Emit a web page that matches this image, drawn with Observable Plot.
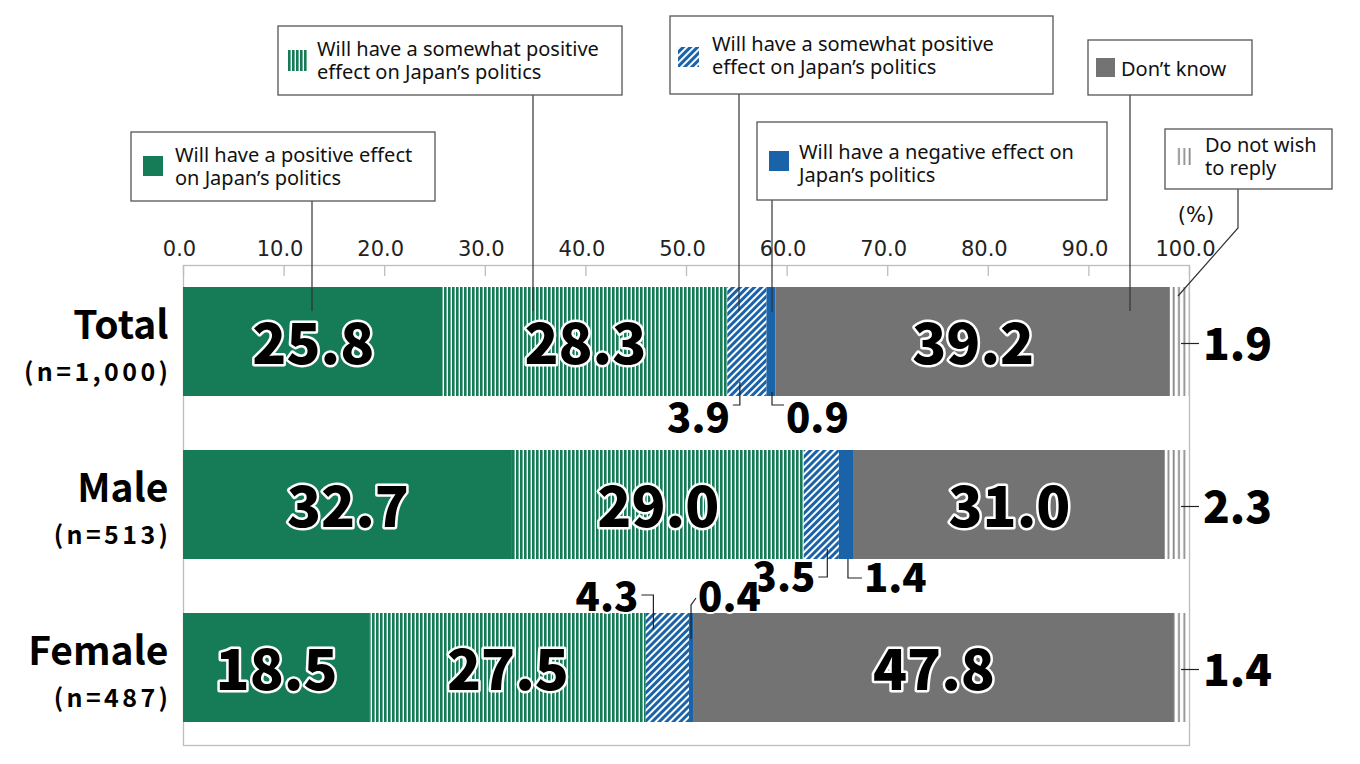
<!DOCTYPE html>
<html><head><meta charset="utf-8">
<script src="https://cdn.jsdelivr.net/npm/d3@7"></script>
<script src="https://cdn.jsdelivr.net/npm/@observablehq/plot@0.6"></script>
<style>body{margin:0;background:#fff}#chart{width:1360px;height:764px}</style>
</head><body><div id="chart"></div>
<script>
// ---------- data ----------
const groups = ["Total", "Male", "Female"];
const groupN = ["(n=1,000)", "(n=513)", "(n=487)"];
const categories = ["positive", "somewhatPositive", "somewhatPositiveBlue", "negative", "dontKnow", "noReply"];
const totalValues  = [25.8, 28.3, 3.9, 0.9, 39.2, 1.9];
const maleValues   = [32.7, 29.0, 3.5, 1.4, 31.0, 2.3];
const femaleValues = [18.5, 27.5, 4.3, 0.4, 47.8, 1.4];
const legendLabels = [
  ["Will have a positive effect", "on Japan\u2019s politics"],
  ["Will have a somewhat positive", "effect on Japan\u2019s politics"],
  ["Will have a somewhat positive", "effect on Japan\u2019s politics"],
  ["Will have a negative effect on", "Japan\u2019s politics"],
  ["Don\u2019t know"],
  ["Do not wish", "to reply"]
];
const xTicks = [0, 10, 20, 30, 40, 50, 60, 70, 80, 90, 100];

// ---------- styles ----------
const GREEN = "#167B57", BLUE = "#1B63A8", GRAY = "#737373", STRIPEGRAY = "#8a8a8a";
const fills = ["url(#pSolidGreen)", "url(#pGreenStripe)", "url(#pBlueHatch)", "url(#pSolidBlue)", "url(#pSolidGray)", "url(#pGrayStripe)"];
const LFONT = "'Noto Sans', 'DejaVu Sans', sans-serif";
const BFONT = "'Noto Sans CJK JP', 'Noto Sans', sans-serif";

const valueSets = [totalValues, maleValues, femaleValues];
const rows = [];
groups.forEach((g, gi) => categories.forEach((c, ci) => rows.push({group: g, cat: c, value: valueSets[gi][ci]})));

const chart = Plot.plot({
  width: 1360, height: 764,
  marginLeft: 183, marginRight: 171, marginTop: 265, marginBottom: 19,
  x: {domain: [0, 100], axis: null},
  y: {domain: groups, axis: null, paddingInner: 0.329, paddingOuter: 0.128},
  color: {domain: categories, range: fills},
  style: {background: "white", overflow: "visible", fontFamily: LFONT},
  marks: [
    Plot.frame({stroke: "#bdbdbd", strokeWidth: 1.3}),
    Plot.ruleX(xTicks, {x: d => d, stroke: "#bdbdbd", strokeWidth: 1.3, insetBottom: 469}),
    Plot.axisX(xTicks, {anchor: "top", tickSize: 0, tickPadding: 10, tickFormat: d => d.toFixed(1), fontSize: 21, dx: -4, fill: "#222", fontFamily: "'DejaVu Sans', sans-serif", label: null}),
    Plot.barX(rows, Plot.stackX({x: "value", y: "group", fill: "cat"})),
    Plot.text(rows, Plot.stackX({x: "value", y: "group", text: d => d.value >= 10 ? d.value.toFixed(1) : "",
      fontSize: 56, fontWeight: 900, fontFamily: BFONT, fill: "black", stroke: "white", strokeWidth: 5, paintOrder: "stroke", dy: 4})),
    Plot.text(groups, {y: d => d, text: d => d, frameAnchor: "left", textAnchor: "end", dx: -15, dy: -15,
      fontSize: 39, fontWeight: 700, fontFamily: BFONT, fill: "black"})
  ]
});
document.getElementById("chart").appendChild(chart);

// ---------- patterns ----------
const svg = d3.select(chart);
const defs = svg.insert("defs", ":first-child");
function solid(id, color) {
  const p = defs.append("pattern").attr("id", id).attr("patternUnits", "userSpaceOnUse").attr("width", 4).attr("height", 4);
  p.append("rect").attr("width", 4).attr("height", 4).attr("fill", color);
}
solid("pSolidGreen", GREEN); solid("pSolidBlue", BLUE); solid("pSolidGray", GRAY);
{
  const p = defs.append("pattern").attr("id", "pGreenStripe").attr("patternUnits", "userSpaceOnUse").attr("width", 4).attr("height", 4);
  p.append("rect").attr("width", 4).attr("height", 4).attr("fill", "white");
  p.append("rect").attr("width", 2.6).attr("height", 4).attr("fill", GREEN);
}
{
  const p = defs.append("pattern").attr("id", "pBlueHatch").attr("patternUnits", "userSpaceOnUse").attr("width", 5).attr("height", 5).attr("patternTransform", "rotate(45)");
  p.append("rect").attr("width", 5).attr("height", 5).attr("fill", "white");
  p.append("rect").attr("width", 3).attr("height", 5).attr("fill", BLUE);
}
{
  const p = defs.append("pattern").attr("id", "pGrayStripe").attr("patternUnits", "userSpaceOnUse").attr("width", 5.3).attr("height", 4);
  p.append("rect").attr("width", 5.3).attr("height", 4).attr("fill", "white");
  p.append("rect").attr("x", 1.5).attr("width", 1.8).attr("height", 4).attr("fill", STRIPEGRAY);
}

// ---------- annotations ----------
const X = chart.scale("x"), Y = chart.scale("y");
const bw = Y.bandwidth;
const ann = svg.append("g").attr("text-anchor", "start");
const line = d3.line();

// sample sizes under the group names
const NSPACE = 3.4;
groups.forEach((g, gi) => {
  const cy = Y.apply(g) + bw / 2;
  ann.append("text").attr("x", X.apply(0) - 15 + NSPACE).attr("y", cy + 30).attr("dy", "0.36em").attr("text-anchor", "end")
    .attr("font-family", BFONT).attr("font-weight", 700).attr("font-size", 25).attr("letter-spacing", NSPACE)
    .attr("fill", "black").text(groupN[gi]);
});

// callout legend boxes (layout only)
const callouts = [
  {box: [131, 132, 435, 201], sw: [143, 156, 20, 20], tx: 175, ty: [162, 185], leader: [[312, 201], [312, 311]]},
  {box: [278, 26, 622, 95], sw: [288, 50, 20, 21], tx: 317, ty: [56, 79], leader: [[533, 95], [533, 311]]},
  {box: [670, 16, 1053, 94], sw: [678, 47, 21, 20], tx: 712, ty: [51, 74], leader: [[739, 94], [739, 311]]},
  {box: [757, 122, 1107, 200], sw: [769, 151, 20, 20], tx: 799, ty: [159, 182], leader: [[772, 200], [772, 312]]},
  {box: [1088, 40, 1252, 95], sw: [1096, 58, 19, 19], tx: 1121, ty: [76], leader: [[1130, 95], [1130, 311]]},
  {box: [1165, 129, 1332, 189], sw: [1176, 148, 17, 17], tx: 1205, ty: [152, 175], leader: [[1238, 189], [1238, 228], [1178, 296]]}
];
callouts.forEach((c, i) => {
  ann.append("path").attr("d", line(c.leader)).attr("fill", "none").attr("stroke", "#333").attr("stroke-width", 1.2);
  ann.append("rect").attr("x", c.box[0]).attr("y", c.box[1]).attr("width", c.box[2] - c.box[0]).attr("height", c.box[3] - c.box[1])
    .attr("fill", "white").attr("stroke", "#555").attr("stroke-width", 1.3);
  ann.append("rect").attr("x", c.sw[0]).attr("y", c.sw[1]).attr("width", c.sw[2]).attr("height", c.sw[3]).attr("fill", fills[i]);
  legendLabels[i].forEach((t, j) => {
    ann.append("text").attr("x", c.tx).attr("y", c.ty[j]).attr("text-anchor", "start").attr("font-family", LFONT).attr("font-size", 20).attr("fill", "#111").text(t);
  });
});
ann.append("text").attr("x", 1196).attr("y", 222).attr("text-anchor", "middle").attr("font-family", "'DejaVu Sans', sans-serif").attr("font-size", 21).attr("fill", "#111").text("(%)");

// small value labels with leaders
const cum = valueSets.map(v => d3.cumsum(v));
function segMid(gi, ci) { return X.apply(cum[gi][ci] - valueSets[gi][ci] / 2); }
// layout offsets (pixels) relative to the segment middle and the bar edge
const smallLayout = [
  {gi: 0, ci: 2, adx: -7, edge: "bottom", y0: -14, y1: 9, hx: -7, ly: 22, side: "left"},
  {gi: 0, ci: 3, adx: 1, edge: "bottom", y0: -4, y1: 9, hx: 12, ly: 22, side: "right"},
  {gi: 1, ci: 2, adx: 6, edge: "bottom", y0: -10, y1: 18, hx: -9, ly: 18, side: "left"},
  {gi: 1, ci: 3, adx: 2, edge: "bottom", y0: 0, y1: 19, hx: 14, ly: 19, side: "right"},
  {gi: 2, ci: 2, adx: -14, edge: "top", y0: 16, y1: -18, hx: -12, ly: -16, side: "left"},
  {gi: 2, ci: 3, adx: 0, edge: "top", y0: 26, y1: -13, hx: 5, ly: -16, side: "right", slant: true}
];
smallLayout.forEach(s => {
  const xa = segMid(s.gi, s.ci) + s.adx;
  const top = Y.apply(groups[s.gi]);
  const edgeY = s.edge === "bottom" ? top + bw : top;
  const pts = s.slant
    ? [[xa, edgeY + s.y0], [xa, edgeY + s.y1 + 5], [xa + s.hx, edgeY + s.y1 - 2]]
    : [[xa, edgeY + s.y0], [xa, edgeY + s.y1], [xa + s.hx, edgeY + s.y1]];
  ann.append("path").attr("d", line(pts)).attr("fill", "none").attr("stroke", "#222").attr("stroke-width", 1.2);
  const lx = xa + s.hx + (s.side === "left" ? -3 : 2);
  ann.append("text").attr("x", lx).attr("y", edgeY + s.ly).attr("dy", "0.36em")
    .attr("text-anchor", s.side === "left" ? "end" : "start")
    .attr("font-family", BFONT).attr("font-weight", 900).attr("font-size", 40).attr("fill", "black")
    .attr("stroke", "white").attr("stroke-width", 4).attr("paint-order", "stroke")
    .text(valueSets[s.gi][s.ci].toFixed(1));
});

// right-side labels for "Do not wish to reply"
groups.forEach((g, gi) => {
  const cy = Y.apply(g) + bw / 2;
  const x0 = X.apply(100);
  ann.append("path").attr("d", line([[x0 - 8, cy + 2], [x0 + 10, cy + 2]])).attr("stroke", "#222").attr("stroke-width", 1.2);
  ann.append("text").attr("x", x0 + 14).attr("y", cy + 3).attr("dy", "0.36em").attr("text-anchor", "start")
    .attr("font-family", BFONT).attr("font-weight", 900).attr("font-size", 44).attr("fill", "black")
    .text(valueSets[gi][5].toFixed(1));
});
</script>
</body></html>
